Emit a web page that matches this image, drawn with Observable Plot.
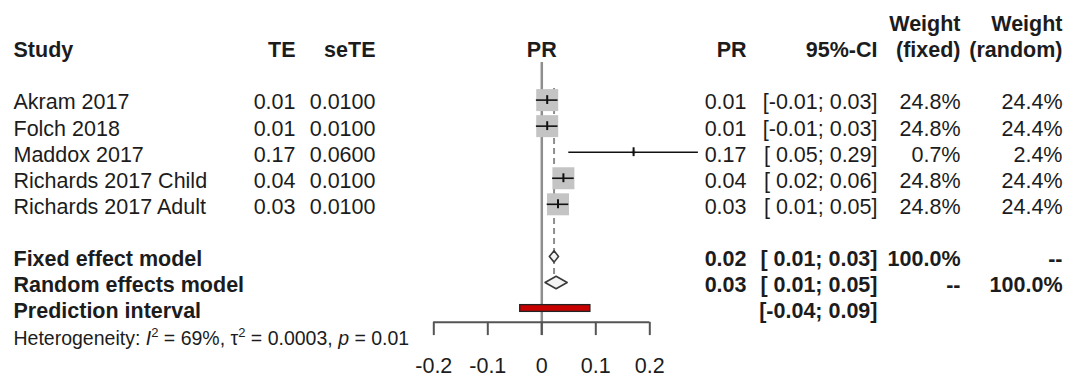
<!DOCTYPE html>
<html><head><meta charset="utf-8">
<script src="https://cdn.jsdelivr.net/npm/d3@7"></script>
<script src="https://cdn.jsdelivr.net/npm/@observablehq/plot@0.6"></script>
<style>body{margin:0;background:#fff}</style>
</head><body><div id="chart"></div>
<script>
// ---- data ----
const studies = ["Akram 2017", "Folch 2018", "Maddox 2017", "Richards 2017 Child", "Richards 2017 Adult"];
const te = [0.01, 0.01, 0.17, 0.04, 0.03];
const seTE = [0.01, 0.01, 0.06, 0.01, 0.01];
const ciLower = [-0.01, -0.01, 0.05, 0.02, 0.01];
const ciUpper = [0.03, 0.03, 0.29, 0.06, 0.05];
const weightFixed = [24.8, 24.8, 0.7, 24.8, 24.8];
const weightRandom = [24.4, 24.4, 2.4, 24.4, 24.4];
const modelNames = ["Fixed effect model", "Random effects model"];
const modelEst = [0.0227, 0.0265];
const modelLower = [0.014, 0.006];
const modelUpper = [0.031, 0.047];
const modelWeightFixed = ["100.0%", "--"];
const modelWeightRandom = ["--", "100.0%"];
const predLabel = "Prediction interval";
const predLower = -0.04, predUpper = 0.09;
const tickValues = [-0.2, -0.1, 0, 0.1, 0.2];
const tickLabels = ["-0.2", "-0.1", "0", "0.1", "0.2"];
const hetI2 = "69%", hetTau2 = "0.0003", hetP = "0.01";

// ---- layout (pixels / row units) ----
const W = 1071, H = 376;
const FONT = "Liberation Sans, Arial, Helvetica, sans-serif";
const FS = 21.5;
const TXT = "#1c1c1c";
const mLeft = 433.3, mRight = 421.7;
const col = {study: 13, te: 295, se: 375, pr: 746, ci: 877, wf: 960, wr: 1062};
const off = px => px - mLeft;
const rows = {header: -1, header2: -2, fixed: 7, random: 8, pred: 9, het: 10.08, axis: 9.53, tickEnd: 10.04, tickLab: 11.1, zeroTop: -0.44};
const tdy = 2.5;

const fmt2 = v => v.toFixed(2);
const fmtCI = (l, u) => "[" + (l < 0 ? fmt2(l) : "\u00a0" + fmt2(l)) + "; " + fmt2(u) + "]";

const sd = studies.map((s, i) => ({
  study: s, row: i + 1, te: te[i], se: seTE[i], lo: ciLower[i], hi: ciUpper[i],
  wf: weightFixed[i], wr: weightRandom[i]
}));
const md = modelNames.map((m, i) => ({
  name: m, row: i === 0 ? rows.fixed : rows.random, est: modelEst[i], lo: modelLower[i], hi: modelUpper[i],
  wf: modelWeightFixed[i], wr: modelWeightRandom[i], h: i === 0 ? 0.22 : 0.24
}));
const diamonds = md.flatMap(d => [
  {m: d.name, x: d.lo, y: d.row}, {m: d.name, x: d.est, y: d.row - d.h},
  {m: d.name, x: d.hi, y: d.row}, {m: d.name, x: d.est, y: d.row + d.h},
  {m: d.name, x: d.lo, y: d.row}
]);

const txt = (data, o) => Plot.text(data, {frameAnchor: "left", fill: TXT, fontSize: FS, dy: tdy, lineAnchor: "middle", ...o});

const headers = [
  {t: "Study", x: col.study, a: "start", r: rows.header},
  {t: "TE", x: col.te, a: "end", r: rows.header},
  {t: "seTE", x: col.se, a: "end", r: rows.header},
  {t: "PR", x: col.pr, a: "end", r: rows.header},
  {t: "95%-CI", x: col.ci, a: "end", r: rows.header},
  {t: "Weight", x: col.wf, a: "end", r: rows.header2},
  {t: "(fixed)", x: col.wf, a: "end", r: rows.header},
  {t: "Weight", x: col.wr, a: "end", r: rows.header2},
  {t: "(random)", x: col.wr, a: "end", r: rows.header}
];

const chart = Plot.plot({
  width: W, height: H,
  marginLeft: mLeft, marginRight: mRight, marginTop: 99.6, marginBottom: H - 308,
  x: {domain: [-0.2, 0.2], axis: null},
  y: {domain: [1, 9], axis: null, reverse: true},
  r: {type: "sqrt", domain: [0, 24.8], range: [0, 12.4]},
  style: {fontFamily: FONT, background: "#fff", overflow: "visible"},
  marks: [
    // zero line
    Plot.ruleX([0], {y1: rows.zeroTop, y2: rows.tickEnd, stroke: "#8e8e8e", strokeWidth: 2.5}),
    // fixed effect dashed line
    Plot.ruleX([modelEst[0]], {y1: 0.55, y2: 7.78, stroke: "#8e8e8e", strokeWidth: 2, strokeDasharray: "6,4"}),
    // squares
    Plot.dot(sd, {x: "te", y: "row", r: "wf", symbol: "square", fill: "#c4c4c4", stroke: "none"}),
    // CI
    Plot.ruleY(sd, {y: "row", x1: "lo", x2: "hi", stroke: "#111", strokeWidth: 1.6}),
    Plot.ruleX(sd, {x: "te", y1: d => d.row - 0.17, y2: d => d.row + 0.17, stroke: "#111", strokeWidth: 2}),
    // diamonds
    Plot.line(diamonds, {x: "x", y: "y", z: "m", fill: "#f4f4f4", stroke: "#3a3a3a", strokeWidth: 1.6}),
    // prediction interval
    Plot.rect([{lo: predLower, hi: predUpper}], {x1: "lo", x2: "hi", y1: rows.pred - 0.13, y2: rows.pred + 0.13, fill: "#c80000", stroke: "#222", strokeWidth: 1.3}),
    // axis
    Plot.ruleY([rows.axis], {x1: tickValues[0], x2: tickValues[tickValues.length - 1], stroke: "#555", strokeWidth: 2}),
    Plot.ruleX(tickValues, {y1: rows.axis, y2: rows.tickEnd, stroke: "#555", strokeWidth: 2}),
    Plot.text(tickValues, {x: d => d, y: rows.tickLab, text: (d, i) => tickLabels[i], fill: TXT, fontSize: FS, dy: tdy}),
    // headers
    ...headers.map(h => txt([h], {y: "r", text: "t", dx: off(h.x), textAnchor: h.a, fontWeight: "bold"})),
    Plot.text([{t: "PR"}], {y: () => rows.header, text: "t", frameAnchor: "middle", fill: TXT, fontSize: FS, dy: tdy, fontWeight: "bold"}),
    // study rows
    txt(sd, {y: "row", text: "study", dx: off(col.study), textAnchor: "start"}),
    txt(sd, {y: "row", text: d => fmt2(d.te), dx: off(col.te), textAnchor: "end"}),
    txt(sd, {y: "row", text: d => d.se.toFixed(4), dx: off(col.se), textAnchor: "end"}),
    txt(sd, {y: "row", text: d => fmt2(d.te), dx: off(col.pr), textAnchor: "end"}),
    txt(sd, {y: "row", text: d => fmtCI(d.lo, d.hi), dx: off(col.ci), textAnchor: "end"}),
    txt(sd, {y: "row", text: d => d.wf.toFixed(1) + "%", dx: off(col.wf), textAnchor: "end"}),
    txt(sd, {y: "row", text: d => d.wr.toFixed(1) + "%", dx: off(col.wr), textAnchor: "end"}),
    // model rows
    txt(md, {y: "row", text: "name", dx: off(col.study), textAnchor: "start", fontWeight: "bold"}),
    txt(md, {y: "row", text: d => fmt2(d.est), dx: off(col.pr), textAnchor: "end", fontWeight: "bold"}),
    txt(md, {y: "row", text: d => fmtCI(d.lo, d.hi), dx: off(col.ci), textAnchor: "end", fontWeight: "bold"}),
    txt(md, {y: "row", text: "wf", dx: off(col.wf), textAnchor: "end", fontWeight: "bold"}),
    txt(md, {y: "row", text: "wr", dx: off(col.wr), textAnchor: "end", fontWeight: "bold"}),
    txt([{t: predLabel}], {y: () => rows.pred, text: "t", dx: off(col.study), textAnchor: "start", fontWeight: "bold"}),
    txt([{t: fmtCI(predLower, predUpper)}], {y: () => rows.pred, text: "t", dx: off(col.ci), textAnchor: "end", fontWeight: "bold"}),
    // heterogeneity
    txt([{t: "Heterogeneity"}], {y: () => rows.het, text: "t", dx: off(col.study), textAnchor: "start", fontSize: 19.5, className: "het"})
  ]
});
document.getElementById("chart").appendChild(chart);

// rich text for heterogeneity line (italic symbols and superscripts)
const het = chart.querySelector(".het text");
if (het) {
  het.innerHTML = `Heterogeneity: <tspan font-style="italic">I</tspan><tspan dy="-8" font-size="13">2</tspan><tspan dy="8"> = ${hetI2}, \u03c4</tspan><tspan dy="-8" font-size="13">2</tspan><tspan dy="8"> = ${hetTau2}, </tspan><tspan font-style="italic">p</tspan> = ${hetP}`;
}
</script>
</body></html>
